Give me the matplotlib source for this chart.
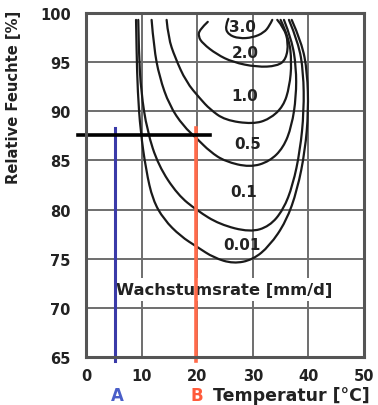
import matplotlib
matplotlib.use("Agg")
import matplotlib.pyplot as plt
from matplotlib.path import Path
from matplotlib.patches import PathPatch

plt.rcParams['font.family'] = ['DejaVu Sans']

# growth-rate isolines (mm/d)
levels = ['0.01', '0.1', '0.5', '1.0', '2.0', '3.0']
iso_x = {
    '0.01': [9.0, 9.1, 9.3, 9.8, 10.8, 12.0, 14.0, 17.0, 20.0, 23.0, 26.5, 30.0, 33.0, 36.0, 38.0, 39.4, 40.0, 39.8, 38.8, 37.0],
    '0.1': [9.4, 9.5, 9.9, 11.0, 13.0, 16.5, 20.0, 24.0, 29.5, 33.0, 35.5, 37.2, 38.5, 39.2, 39.1, 38.2, 36.5],
    '0.5': [11.8, 12.2, 13.2, 15.0, 17.5, 20.0, 22.3, 25.0, 29.5, 33.0, 35.5, 37.0, 37.8, 37.8, 37.0, 35.6],
    '1.0': [14.5, 14.8, 16.0, 18.0, 20.5, 22.3, 25.0, 30.0, 33.0, 35.5, 36.6, 37.0, 36.5, 35.0],
    '2.0': [21.9, 20.4, 20.2, 21.0, 23.5, 26.4, 30.7, 34.4, 36.0, 36.4, 35.6, 34.4],
    '3.0': [25.6, 25.0, 25.6, 27.5, 30.0, 32.0, 33.0, 33.5],
}
iso_y = {
    '0.01': [99.3, 96.0, 92.0, 88.0, 84.0, 81.0, 79.0, 77.3, 76.2, 75.1, 74.5, 74.9, 76.3, 78.8, 82.0, 86.0, 90.0, 94.0, 97.0, 99.3],
    '0.1': [99.3, 96.0, 92.0, 88.0, 84.5, 81.5, 79.9, 78.5, 77.7, 78.3, 80.0, 82.5, 86.0, 90.0, 94.0, 97.0, 99.3],
    '0.5': [99.3, 96.5, 93.5, 90.6, 88.5, 87.2, 85.9, 84.9, 84.3, 84.9, 86.3, 88.5, 91.5, 94.5, 97.3, 99.3],
    '1.0': [99.3, 97.5, 95.5, 93.0, 91.3, 90.2, 89.1, 88.7, 89.2, 90.5, 92.5, 95.0, 97.5, 99.3],
    '2.0': [99.1, 98.3, 97.6, 96.9, 95.8, 95.0, 94.5, 94.6, 95.3, 97.0, 98.5, 99.3],
    '3.0': [99.4, 98.6, 97.8, 97.4, 97.5, 98.0, 98.7, 99.3],
}
label_x = [28.0, 28.3, 29.0, 28.6, 28.6, 28.2]
label_y = [76.5, 81.8, 86.7, 91.6, 96.0, 98.6]

# reading example: A = 5 C, B = 20 C at 87.5 % RH
temp_a = 5.2
temp_b = 19.8
rh_mark = 87.6
rh_top = 88.3


def smooth_path(xs, ys):
    # quadratic b-spline path: read points act as control points
    pts = list(zip(xs, ys))
    verts = [pts[0]]
    codes = [Path.MOVETO]
    for i in range(1, len(pts) - 1):
        nxt = pts[i + 1] if i == len(pts) - 2 else (
            (pts[i][0] + pts[i + 1][0]) / 2, (pts[i][1] + pts[i + 1][1]) / 2)
        verts += [pts[i], nxt]
        codes += [Path.CURVE3, Path.CURVE3]
    return Path(verts, codes)


fig = plt.figure(figsize=(3.78, 4.06), dpi=100)
ax = fig.add_axes([0.2275, 0.118, 0.7355, 0.8475])
ax.set_xlim(0, 50)
ax.set_ylim(65, 100)

grid_col = '#6e6e6e'
for gx in [10, 20, 30, 40]:
    ax.axvline(gx, color=grid_col, lw=1.4, zorder=1)
for gy in [70, 75, 80, 85, 90, 95]:
    ax.axhline(gy, color=grid_col, lw=1.4, zorder=1)

for lev in levels:
    ax.add_patch(PathPatch(smooth_path(iso_x[lev], iso_y[lev]), fill=False,
                           edgecolor='#1a1a1a', lw=1.6, capstyle='round',
                           joinstyle='round', zorder=3))
for lev, tx, ty in zip(levels, label_x, label_y):
    ax.text(tx, ty, lev, ha='center', va='center', fontsize=11,
            fontweight='bold', color='#222222', zorder=4)

ax.text(5.4, 71.9, 'Wachstumsrate [mm/d]', ha='left', va='center',
        fontsize=11.8, fontweight='bold', color='#222222', zorder=2,
        bbox=dict(facecolor='white', edgecolor='none', pad=3))

ax.plot([temp_a, temp_a], [64.6, rh_top], color='#3a3aa8', lw=2.2,
        clip_on=False, zorder=5)
ax.plot([temp_b, temp_b], [64.6, rh_top], color='#ff6a4a', lw=2.6,
        clip_on=False, zorder=5)
ax.plot([-1.5, 22.3], [rh_mark, rh_mark], color='black', lw=2.6,
        clip_on=False, zorder=6)

for s in ax.spines.values():
    s.set_color('#555555')
    s.set_linewidth(2.2)
    s.set_zorder(7)

ax.set_xticks([0, 10, 20, 30, 40, 50])
ax.set_yticks([65, 70, 75, 80, 85, 90, 95, 100])
ax.tick_params(length=0, labelsize=10.5, colors='#222222')
ax.tick_params(axis='y', pad=11)
ax.tick_params(axis='x', pad=8)
for lab in ax.get_xticklabels() + ax.get_yticklabels():
    lab.set_fontweight('bold')

fig.text(14 / 378, 1 - 97 / 406, 'Relative Feuchte [%]', rotation=90,
         ha='center', va='center', fontsize=10.6, fontweight='bold',
         color='#222222')

fig.text(117 / 378, 1 - 396 / 406, 'A', ha='center', va='center',
         fontsize=12, fontweight='bold', color='#4a5ec8')
fig.text(197 / 378, 1 - 396 / 406, 'B', ha='center', va='center',
         fontsize=12, fontweight='bold', color='#ff5a3a')
fig.text(213 / 378, 1 - 396 / 406, 'Temperatur [°C]', ha='left', va='center',
         fontsize=12.5, fontweight='bold', color='#222222')

fig.savefig('out.png', dpi=100)
